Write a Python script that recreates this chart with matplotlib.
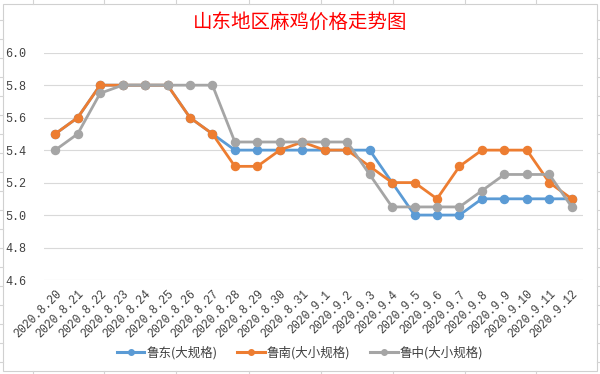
import matplotlib
matplotlib.use("Agg")
import matplotlib.pyplot as plt
from matplotlib.lines import Line2D
from matplotlib.patches import Rectangle

plt.rcParams['font.family'] = ['Noto Sans CJK SC', 'DejaVu Sans']

dates = ["2020.8.20", "2020.8.21", "2020.8.22", "2020.8.23", "2020.8.24", "2020.8.25",
         "2020.8.26", "2020.8.27", "2020.8.28", "2020.8.29", "2020.8.30", "2020.8.31",
         "2020.9.1", "2020.9.2", "2020.9.3", "2020.9.4", "2020.9.5", "2020.9.6",
         "2020.9.7", "2020.9.8", "2020.9.9", "2020.9.10", "2020.9.11", "2020.9.12"]
ludong = [5.5, 5.6, 5.8, 5.8, 5.8, 5.8, 5.6, 5.5, 5.4, 5.4, 5.4, 5.4,
          5.4, 5.4, 5.4, 5.2, 5.0, 5.0, 5.0, 5.1, 5.1, 5.1, 5.1, 5.1]
lunan = [5.5, 5.6, 5.8, 5.8, 5.8, 5.8, 5.6, 5.5, 5.3, 5.3, 5.4, 5.45,
         5.4, 5.4, 5.3, 5.2, 5.2, 5.1, 5.3, 5.4, 5.4, 5.4, 5.2, 5.1]
luzhong = [5.4, 5.5, 5.75, 5.8, 5.8, 5.8, 5.8, 5.8, 5.45, 5.45, 5.45, 5.45,
           5.45, 5.45, 5.25, 5.05, 5.05, 5.05, 5.05, 5.15, 5.25, 5.25, 5.25, 5.05]
series_names = ["鲁东(大规格)", "鲁南(大小规格)", "鲁中(大小规格)"]
colors = ["#5B9BD5", "#ED7D31", "#A5A5A5"]
yticks = [4.6, 4.8, 5.0, 5.2, 5.4, 5.6, 5.8, 6.0]
title = "山东地区麻鸡价格走势图"

W, H = 600, 374
fig = plt.figure(figsize=(W / 100, H / 100), dpi=100)
fig.patch.set_facecolor("white")

# spreadsheet grid hints outside chart box
for xv in [32.6, 104, 176, 249, 321, 393, 465, 536]:
    fig.add_artist(Line2D([xv / W, xv / W], [1 - 0 / H, 1 - 4 / H], color="#D4D4D4", lw=0.8))
    fig.add_artist(Line2D([xv / W, xv / W], [0, 3 / H], color="#D4D4D4", lw=0.8))
for yv in range(20, 374, 19):
    fig.add_artist(Line2D([0, 3 / W], [1 - yv / H, 1 - yv / H], color="#D4D4D4", lw=0.8))
    fig.add_artist(Line2D([597 / W, 1], [1 - yv / H, 1 - yv / H], color="#D4D4D4", lw=0.8))
fig.add_artist(Rectangle((3 / W, 3 / H), 594 / W, 367 / H, transform=fig.transFigure,
                         facecolor="none", edgecolor="#D0D0D0", lw=0.8))

ax = fig.add_axes([44 / W, 1 - 280 / H, 539 / W, (280 - 52.7) / H])
x = list(range(len(dates)))
for vals, c, name in zip([ludong, lunan, luzhong], colors, series_names):
    ax.plot(x, vals, color=c, lw=2.0, marker="o", markersize=5.8, label=name,
            solid_joinstyle="round", zorder=3)

ax.set_xlim(-0.5, len(dates) - 0.5)
ax.set_ylim(4.6, 6.0)
ax.set_yticks(yticks)
ax.set_yticklabels([f"{v:.1f}" for v in yticks], family=["Liberation Mono", "DejaVu Sans Mono"],
                   fontsize=8.5, color="#404040")
ax.set_xticks(x)
ax.set_xticklabels(dates, rotation=45, ha="right", rotation_mode="anchor",
                   family=["Liberation Mono", "DejaVu Sans Mono"], fontsize=8.3, color="#404040")
ax.tick_params(axis="both", length=0)
ax.tick_params(axis="y", pad=13)
ax.tick_params(axis="x", pad=6)
ax.grid(axis="y", color="#D9D9D9", lw=0.8)
ax.set_axisbelow(True)
for s in ax.spines.values():
    s.set_visible(False)

fig.text(0.5, 1 - 22 / H, title, color="#FF0000", fontsize=14, ha="center", va="center")

handles = [Line2D([0], [0], color=c, lw=2.2, marker="o", markersize=4) for c in colors]
fig.legend(handles, series_names, loc="center", bbox_to_anchor=(0.5, 1 - 353 / H), ncol=3,
           frameon=False, fontsize=9, handlelength=2.2, handletextpad=0.15, columnspacing=1.6,
           labelcolor="#404040")

fig.savefig("out.png", dpi=100, facecolor="white")
